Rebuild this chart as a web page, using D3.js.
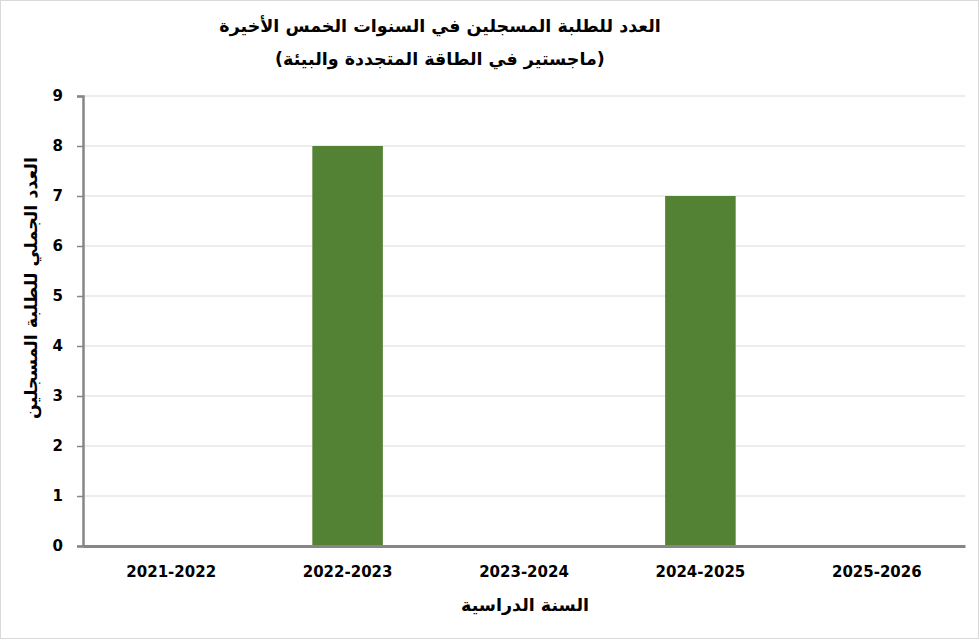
<!DOCTYPE html>
<html>
<head>
<meta charset="utf-8">
<script src="https://cdn.jsdelivr.net/npm/d3@7"></script>
<style>
  body { margin: 0; background: #fff; }
  svg { display: block; }
</style>
</head>
<body>
<svg id="chart" width="980" height="640"></svg>
<script>
// data
const years = ["2021-2022", "2022-2023", "2023-2024", "2024-2025", "2025-2026"];
const students = [0, 8, 0, 7, 0];
const yTicks = [0, 1, 2, 3, 4, 5, 6, 7, 8, 9];
const titleLines = ["العدد للطلبة المسجلين في السنوات الخمس الأخيرة", "(ماجستير في الطاقة المتجددة والبيئة)"];
const yTitle = "العدد الجملي للطلبة المسجلين";
const xTitle = "السنة الدراسية";

const svg = d3.select("#chart");
const width = 980, height = 640;
const margin = { top: 96, right: 15, bottom: 94, left: 83 };
const innerW = width - margin.left - margin.right;
const innerH = height - margin.top - margin.bottom;

// outer border
svg.append("rect")
    .attr("x", 0.5).attr("y", 0.5)
    .attr("width", width - 2).attr("height", height - 2)
    .attr("fill", "#fff").attr("stroke", "#d9d9d9");

const g = svg.append("g").attr("transform", `translate(${margin.left},${margin.top})`);

const x = d3.scaleBand().domain(years).range([0, innerW]).paddingInner(0.6).paddingOuter(0.3);
const y = d3.scaleLinear().domain([0, 9]).range([innerH, 0]);

// gridlines
g.append("g").selectAll("line")
    .data(yTicks.filter(d => d > 0))
    .join("line")
    .attr("x1", 0).attr("x2", innerW)
    .attr("y1", d => y(d)).attr("y2", d => y(d))
    .attr("stroke", "#d9d9d9").attr("stroke-width", 1);

// bars
g.append("g").selectAll("rect")
    .data(years.map((yr, i) => ({ yr, v: students[i] })).filter(d => d.v > 0))
    .join("rect")
    .attr("x", d => x(d.yr))
    .attr("y", d => y(d.v))
    .attr("width", x.bandwidth())
    .attr("height", d => innerH - y(d.v))
    .attr("fill", "#548235");

// y axis
const yAxisG = g.append("g")
    .call(d3.axisLeft(y).tickValues(yTicks).tickSize(6).tickPadding(14));
yAxisG.select(".domain").attr("stroke", "#868686").attr("stroke-width", 2.5);
yAxisG.selectAll(".tick line").attr("stroke", "#868686").attr("stroke-width", 1.5);
yAxisG.selectAll(".tick text")
    .attr("fill", "#000")
    .style("font-family", "DejaVu Sans, Verdana, sans-serif")
    .style("font-weight", "bold")
    .style("font-size", "15px");

// x axis
const xAxisG = g.append("g")
    .attr("transform", `translate(0,${innerH})`)
    .call(d3.axisBottom(x).tickSize(0).tickPadding(20));
xAxisG.select(".domain").attr("stroke", "#868686").attr("stroke-width", 3);
xAxisG.selectAll(".tick text")
    .attr("fill", "#000")
    .style("font-family", "DejaVu Sans, Verdana, sans-serif")
    .style("font-weight", "bold")
    .style("font-size", "15px");

// title
svg.append("g").selectAll("text")
    .data(titleLines)
    .join("text")
    .attr("x", 440)
    .attr("y", (d, i) => 32 + i * 33)
    .attr("text-anchor", "middle")
    .attr("direction", "rtl")
    .style("font-family", "DejaVu Sans, sans-serif")
    .style("font-weight", "bold")
    .style("font-size", "17.5px")
    .text(d => d);

// axis titles
svg.append("text")
    .attr("transform", `translate(37,288) rotate(-90)`)
    .attr("text-anchor", "middle")
    .attr("direction", "rtl")
    .style("font-family", "DejaVu Sans, sans-serif")
    .style("font-weight", "bold")
    .style("font-size", "17.5px")
    .text(yTitle);

svg.append("text")
    .attr("x", 525)
    .attr("y", 611)
    .attr("text-anchor", "middle")
    .attr("direction", "rtl")
    .style("font-family", "DejaVu Sans, sans-serif")
    .style("font-weight", "bold")
    .style("font-size", "17.5px")
    .text(xTitle);
</script>
</body>
</html>
